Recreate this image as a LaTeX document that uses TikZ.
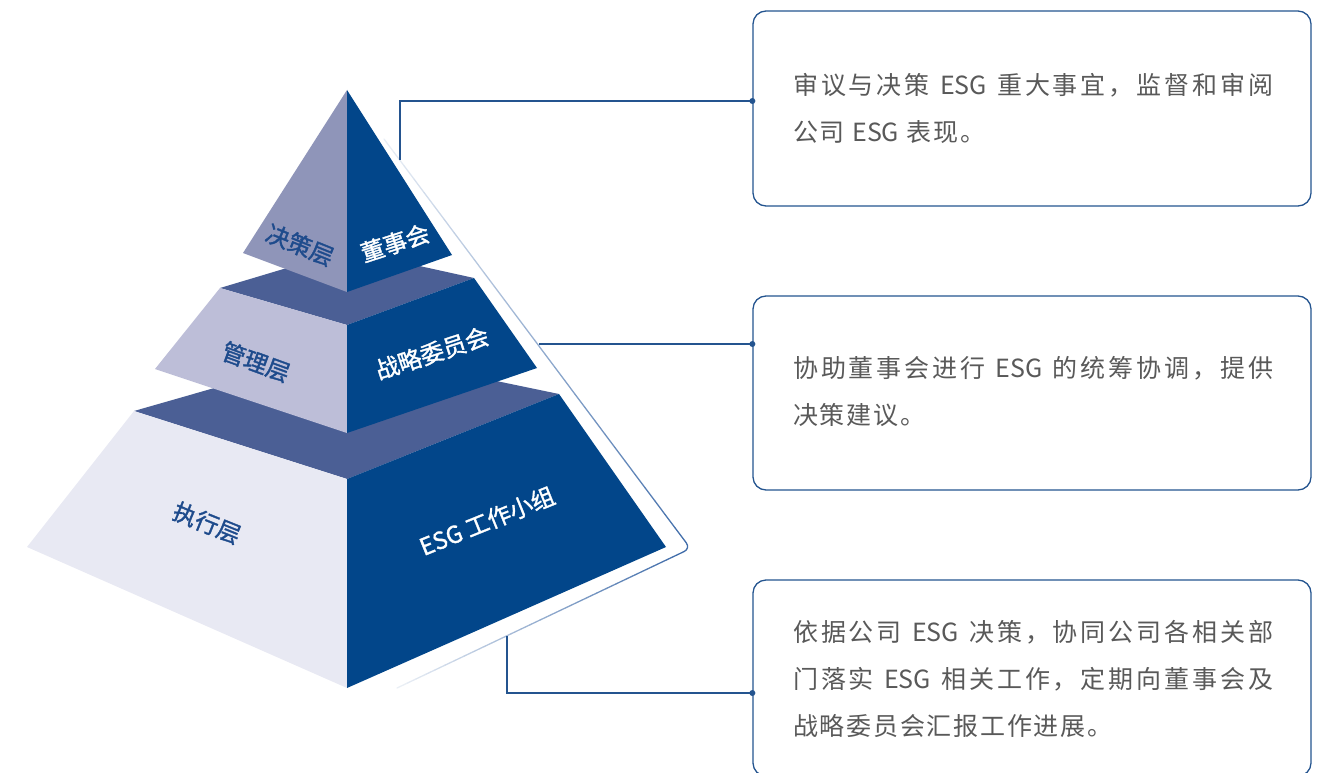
\documentclass[tikz,border=0pt]{standalone}
\usepackage{fontspec}
\setmainfont{Noto Sans CJK SC}
\newfontfamily\boxfont[LetterSpace=7]{Noto Sans CJK SC}
\newfontfamily\latinfont{Noto Sans CJK SC}
\newfontfamily\labfont[FakeBold=1.4]{Noto Sans CJK SC}
\usetikzlibrary{calc}
\newcommand\esg{{\latinfont ESG}}
\newcommand\jline[1]{\hbox to 480pt{\jfirst#1\relax}}
\def\jfirst#1{#1\jloop}
\def\jloop#1{\ifx\relax#1\else\hfil#1\expandafter\jloop\fi}
\definecolor{rface}{HTML}{02468A}
\definecolor{slate}{HTML}{4B5F95}
\definecolor{lface1}{HTML}{8F95B9}
\definecolor{lface2}{HTML}{BDBED8}
\definecolor{lface3}{HTML}{E8E9F3}
\definecolor{labblue}{HTML}{1E4B8C}
\definecolor{conncol}{HTML}{24548F}
\definecolor{outl}{HTML}{3D6AA8}
\definecolor{txtgray}{HTML}{595959}
\tikzset{
  infobox/.style={draw=conncol, line width=1.3pt, rounded corners=13pt, fill=none, inner sep=0pt},
  boxtext/.style={anchor=west, align=left, inner sep=0pt, text=txtgray, font=\boxfont\fontsize{25}{47}\selectfont},
  leftlab/.style={text=labblue, inner sep=0pt, font=\labfont\fontsize{23.5}{26}\selectfont},
  rightlab/.style={text=white, inner sep=0pt, font=\labfont\fontsize{23.5}{26}\selectfont},
  conn/.style={draw=conncol, line width=1.4pt},
  outline/.style={line width=1.3pt, line cap=round}
}
\begin{document}
\begin{tikzpicture}[x=1pt,y=-1pt]
\useasboundingbox (0,0) rectangle (1325,773);
\begin{scope}
\clip (0,0) rectangle (1325,773);
% bottom tier
\fill[slate] (134,411) -- (347,350) -- (559,394) -- (347,479) -- cycle;
\fill[lface3] (134,411) -- (347,479) -- (347,688) -- (27,547) -- cycle;
\fill[rface] (347,479) -- (559,394) -- (666,547) -- (347,688) -- cycle;
% middle tier
\fill[slate] (220,288) -- (347,250) -- (474,278) -- (347,325) -- cycle;
\fill[lface2] (220,288) -- (347,325) -- (347,433) -- (155,369) -- cycle;
\fill[rface] (347,325) -- (474,278) -- (537,368) -- (347,433) -- cycle;
% top tier
\fill[lface1] (347,90) -- (347,292) -- (243,253) -- cycle;
\fill[rface] (347,90) -- (452,255) -- (347,292) -- cycle;

% outline with fading
\coordinate (A0) at (384,139);
\coordinate (K) at (690.5,548.5);
\coordinate (B0) at (397,688);
\coordinate (Ka) at ($(K)!9pt!(A0)$);
\coordinate (Kb) at ($(K)!9pt!(B0)$);
\foreach \i in {0,...,29}{
  \pgfmathsetmacro\s{\i/30}
  \pgfmathsetmacro\e{(\i+1)/30}
  \pgfmathsetmacro\p{12+86*\s}
  \draw[outline, draw=outl!\p!white] ($(A0)!\s!(Ka)$) -- ($(A0)!\e!(Ka)$);
}
\draw[outline, draw=outl!98!white, rounded corners=7pt] (Ka) -- (K) -- (Kb);
\foreach \i in {0,...,29}{
  \pgfmathsetmacro\s{\i/30}
  \pgfmathsetmacro\e{(\i+1)/30}
  \pgfmathsetmacro\p{98-90*\s}
  \draw[outline, draw=outl!\p!white] ($(Kb)!\s!(B0)$) -- ($(Kb)!\e!(B0)$);
}

% pyramid labels
\node[leftlab, rotate=-22] (l1) at (300,245) {决策层};
\node[rightlab, rotate=18] (r1) at (395,243) {董事会};
\node[leftlab, rotate=-20] (l2) at (256,362) {管理层};
\node[rightlab, rotate=18] (r2) at (432,353) {战略委员会};
\node[leftlab, rotate=-22] (l3) at (207,523) {执行层};
\node[rightlab, rotate=22] (r3) at (487,521) {ESG 工作小组};

% boxes
\node[infobox, minimum width=558pt, minimum height=195pt] (b1) at (1032,108.5) {};
\node[infobox, minimum width=558pt, minimum height=194pt] (b2) at (1032,393) {};
\node[infobox, minimum width=558pt, minimum height=196pt] (b3) at (1032,678) {};

\node[boxtext] (t1) at (793,108.5) {\jline{审议与决策{\ \esg\ }重大事宜，监督和审阅}\\公司 \esg{} 表现。};
\node[boxtext] (t2) at (793,391.5) {\jline{协助董事会进行{\ \esg\ }的统筹协调，提供}\\决策建议。};
\node[boxtext] (t3) at (793,678.5) {\jline{依据公司{\ \esg\ }决策，协同公司各相关部}\\\jline{门落实{\ \esg\ }相关工作，定期向董事会及}\\战略委员会汇报工作进展。};

% connectors
\coordinate (o1) at (400,160);
\coordinate (o2) at (539,344);
\coordinate (o3) at (507,636);
\draw[conn] (o1) |- (b1.west |- 0,101);
\fill[conncol] (b1.west |- 0,101) circle (3pt);
\draw[conn] (o2) -- (b2.west |- 0,344);
\fill[conncol] (b2.west |- 0,344) circle (3pt);
\draw[conn] (o3) |- (b3.west |- 0,693);
\fill[conncol] (b3.west |- 0,693) circle (3pt);
\end{scope}
\end{tikzpicture}
\end{document}
